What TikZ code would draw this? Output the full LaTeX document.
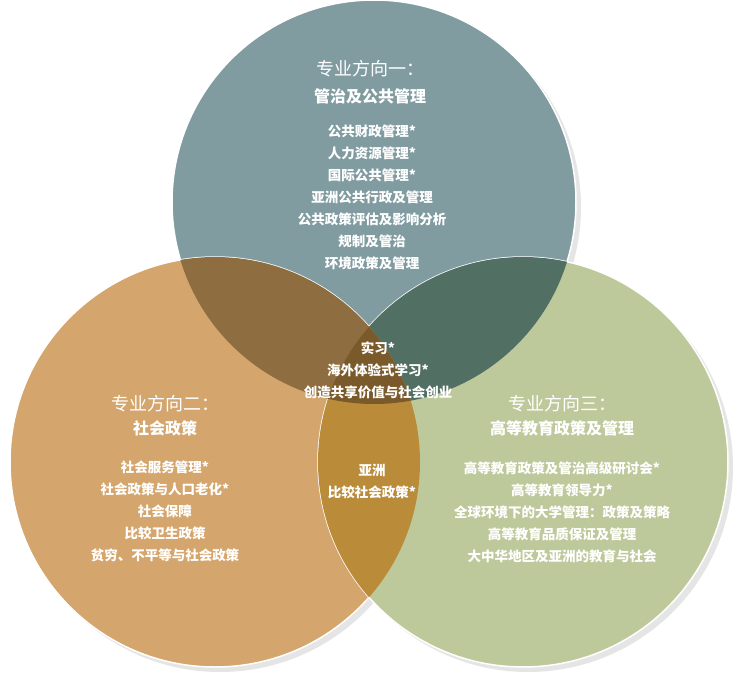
\documentclass[tikz,border=0pt]{standalone}
\usepackage{fontspec}
\newfontfamily\cjk{Noto Sans CJK SC}
\definecolor{cT}{RGB}{128,156,161}
\definecolor{cL}{RGB}{212,165,108}
\definecolor{cR}{RGB}{190,201,155}
\definecolor{cTL}{RGB}{142,110,64}
\definecolor{cTR}{RGB}{82,111,100}
\definecolor{cLR}{RGB}{186,140,58}
\definecolor{cC}{RGB}{122,90,42}
\begin{document}
\begin{tikzpicture}[x=1pt,y=-1pt,
  item/.style={text=white,font=\cjk\bfseries\fontsize{13.5}{15}\selectfont,align=center,inner sep=0},
  headA/.style={text=white,font=\cjk\fontsize{18}{20}\selectfont,inner sep=0},
  headB/.style={text=white,font=\cjk\bfseries\fontsize{16}{18}\selectfont,inner sep=0}]
\useasboundingbox (0,0) rectangle (740,677);
\fill[white] (0,0) rectangle (740,677);
\def\T{(374,202) circle (202)}
\def\L{(215,462) circle (205)}
\def\R{(523,462) circle (205)}
\fill[gray!40,opacity=0.5] (379,207) circle (202);
\fill[gray!40,opacity=0.5] (220,467) circle (205);
\fill[gray!40,opacity=0.5] (528,467) circle (205);
\filldraw[fill=cT,draw=white,line width=1.5] \T;
\filldraw[fill=cL,draw=white,line width=1.5] \L;
\filldraw[fill=cR,draw=white,line width=1.5] \R;
\begin{scope}\clip \T; \fill[cTL] \L; \end{scope}
\begin{scope}\clip \T; \fill[cTR] \R; \end{scope}
\begin{scope}\clip \L; \fill[cLR] \R; \end{scope}
\begin{scope}\clip \T; \clip \L; \fill[cC] \R; \end{scope}
\node[headA] (ta) at (370,69) {专业方向一：};
\node[headB] (tb) at (370,96) {管治及公共管理};
\node[item] (ti) at (372,197) {公共财政管理*\\[7pt]人力资源管理*\\[7pt]国际公共管理*\\[7pt]亚洲公共行政及管理\\[7pt]公共政策评估及影响分析\\[7pt]规制及管治\\[7pt]环境政策及管理};
\node[item] (ci) at (378,370) {实习*\\[7pt]海外体验式学习*\\[7pt]创造共享价值与社会创业};
\node[headA] (la) at (165,404) {专业方向二：};
\node[headB] (lb) at (165,428) {社会政策};
\node[item] (li) at (165,511) {社会服务管理*\\[7pt]社会政策与人口老化*\\[7pt]社会保障\\[7pt]比较卫生政策\\[7pt]贫穷、不平等与社会政策};
\node[item] (mi) at (372,481) {亚洲\\[7pt]比较社会政策*};
\node[headA] (ra) at (562,404) {专业方向三：};
\node[headB] (rb) at (562,428) {高等教育政策及管理};
\node[item] (ri) at (562,512) {高等教育政策及管治高级研讨会*\\[7pt]高等教育领导力*\\[7pt]全球环境下的大学管理：政策及策略\\[7pt]高等教育品质保证及管理\\[7pt]大中华地区及亚洲的教育与社会};
\end{tikzpicture}
\end{document}
